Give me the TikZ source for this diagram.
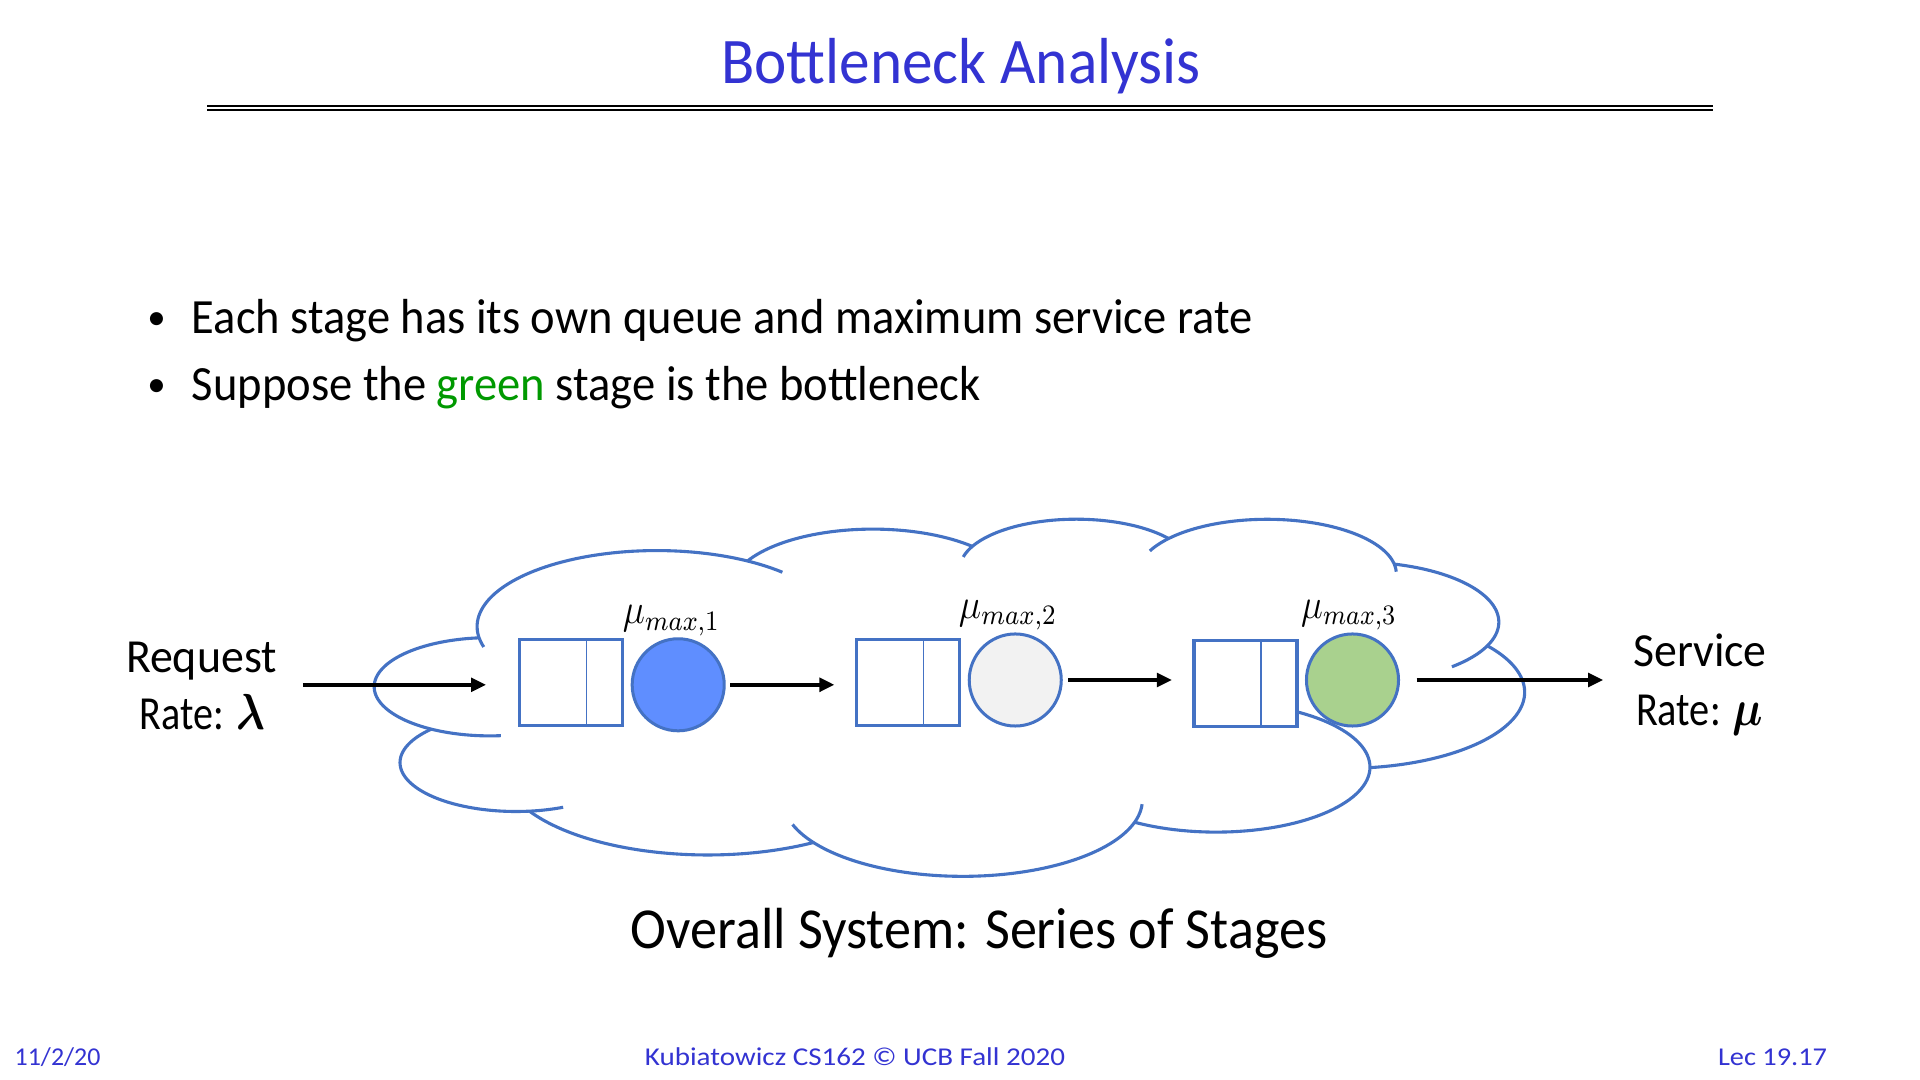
\documentclass[tikz,border=0pt]{standalone}
\usepackage{amsmath}
\usepackage{graphicx}
\usepackage{fontspec}
\setmainfont{Carlito}
\usetikzlibrary{arrows.meta,calc}
\definecolor{cloudblue}{HTML}{4472C4}
\definecolor{titleblue}{RGB}{51,51,210}
\definecolor{tgreen}{RGB}{0,153,0}
\definecolor{fillblue}{RGB}{95,142,255}
\definecolor{fillgray}{HTML}{F2F2F2}
\definecolor{fillgreen}{HTML}{A9D18E}
\newsavebox\fitbox
\newlength\fitlen
% scale a text horizontally to a target ink width given in px
\newcommand\fitw[2]{\sbox\fitbox{#2}\setlength\fitlen{\wd\fitbox}\pgfmathsetmacro\fitratio{#1*0.284528/\fitlen}\scalebox{\fitratio}[1]{\usebox\fitbox}}
\newcommand\cloudarc[6]{\draw[cloudln] plot[domain=#5:#6,samples=70,variable=\t] ({#1+#3*cos(\t)},{#2+#4*sin(\t)});}
\begin{document}
\begin{tikzpicture}[x=0.01cm,y=-0.01cm,
  txt/.style={inner sep=0pt, outer sep=0pt},
  titlefont/.style={font=\fontsize{18.5pt}{22pt}\selectfont, text=titleblue},
  bulletfont/.style={font=\fontsize{14pt}{17pt}\selectfont},
  dotfont/.style={font=\fontsize{10.5pt}{12pt}\selectfont},
  labelfont/.style={font=\fontsize{13.5pt}{16pt}\selectfont},
  capfont/.style={font=\fontsize{16.5pt}{20pt}\selectfont},
  footfont/.style={font=\fontsize{7.3pt}{9pt}\selectfont, text=titleblue},
  mufont/.style={font=\fontsize{12pt}{14pt}\selectfont},
  queue/.style={draw=cloudblue, line width=0.032cm, fill=white, minimum width=1.03cm, minimum height=0.86cm, inner sep=0pt, outer sep=0pt},
  server/.style={circle, draw=cloudblue, line width=0.03cm, minimum size=0.92cm, inner sep=0pt, outer sep=0pt},
  divline/.style={draw=cloudblue, line width=0.014cm},
  cloudln/.style={draw=cloudblue, line width=0.031cm},
  arr/.style={draw=black, line width=0.04cm, -{Triangle[length=0.15cm,width=0.135cm]}},
  rulethick/.style={draw=black, line width=0.025cm},
  rulethin/.style={draw=black, line width=0.015cm}]
\fill[white] (0,0) rectangle (1920,1080);
\useasboundingbox (0,0) rectangle (1920,1080);

% title and double rule
\node[txt, titlefont, anchor=base] (title) at (961,83.3) {\fitw{479}{Bottleneck Analysis}};
\draw[rulethick] (207,106) -- (1713,106);
\draw[rulethin] (207,110) -- (1713,110);

% bullets
\node[txt, dotfont, anchor=base] (d1) at (156.5,329.1) {•};
\node[txt, bulletfont, anchor=base west] (b1) at (191.8,333.3) {\fitw{1060}{Each stage has its own queue and maximum service rate}};
\node[txt, dotfont, anchor=base] (d2) at (156.5,396.8) {•};
\node[txt, bulletfont, anchor=base west] (b2) at (191.8,401) {\fitw{788}{Suppose the \textcolor{tgreen}{green} stage is the bottleneck}};

% cloud
\cloudarc{656.70}{626.52}{179.61}{75.95}{-195.63}{-45.59}
\cloudarc{872.79}{589.17}{141.84}{60.05}{-152.03}{-45.43}
\cloudarc{1076.23}{568.33}{116.10}{49.13}{-166.61}{-37.31}
\cloudarc{1267.12}{573.79}{129.18}{54.50}{-155.21}{-2.2}
\cloudarc{1356.99}{622.12}{141.84}{60.10}{-74.77}{48}
\cloudarc{1344.46}{692.22}{180.20}{76.19}{-37.53}{81.86}
\cloudarc{1216.11}{767.12}{153.87}{65.01}{-64.65}{121.98}
\cloudarc{962.75}{800.21}{179.58}{76.15}{3}{161.4}
\cloudarc{707.65}{767.86}{205.33}{87.13}{58.98}{150.20}
\cloudarc{515.97}{762.60}{115.96}{48.91}{66}{223.12}
\cloudarc{489.73}{686.77}{115.57}{49.13}{84.5}{264.11}

% stages
\node[queue] (q1) at (570.85,682.8) {};
\node[queue] (q2) at (908,682.5) {};
\node[queue] (q3) at (1245.5,683.15) {};
\foreach \q in {q1,q2,q3}
  \draw[divline] ($(\q.north west)!0.65!(\q.north east)$) -- ($(\q.south west)!0.65!(\q.south east)$);
\node[server, fill=fillblue] (c1) at (678.2,684.8) {};
\node[server, fill=fillgray] (c2) at (1015.25,680) {};
\node[server, fill=fillgreen] (c3) at (1352.5,680) {};

\node[txt, mufont, anchor=base] (m1) at (671.5,624) {\fitw{97}{$\mu_{max,1}$}};
\node[txt, mufont, anchor=base] (m2) at (1008,618.5) {\fitw{98}{$\mu_{max,2}$}};
\node[txt, mufont, anchor=base] (m3) at (1349,618.5) {\fitw{95.5}{$\mu_{max,3}$}};

% side labels
\node[txt, labelfont, anchor=base] (req) at (201.4,672.7) {\fitw{150.7}{Request}};
\node[txt, labelfont, anchor=base] (reqrate) at (202.5,729.3) {\fitw{125}{Rate: $\boldsymbol{\lambda}$}};
\node[txt, labelfont, anchor=base] (svc) at (1700,666.7) {\fitw{133.4}{Service}};
\node[txt, labelfont, anchor=base] (svcrate) at (1699.7,726) {\fitw{127.3}{Rate: $\boldsymbol{\mu}$}};

% arrows
\draw[arr, shorten <=0.26cm, shorten >=0.332cm] (req.east |- c1.center) -- (q1.west |- c1.center);
\draw[arr, shorten <=0.058cm, shorten >=0.22cm] (c1.east) -- (c1.east -| q2.west);
\draw[arr, shorten <=0.07cm, shorten >=0.22cm] (c2.east) -- (c2.east -| q3.west);
\draw[arr, shorten <=0.182cm, shorten >=0.30cm] (c3.east) -- (c3.east -| svc.west);

% caption
\node[txt, capfont, anchor=base] (cap) at (978.9,948.3) {\fitw{696}{Overall System: Series of Stages}};

% footer
\node[txt, footfont, anchor=base west] (date) at (14.7,1066) {\fitw{85.7}{11/2/20}};
\node[txt, footfont, anchor=base] (course) at (855,1066) {\fitw{420}{Kubiatowicz CS162 © UCB Fall 2020}};
\node[txt, footfont, anchor=base west] (lec) at (1718,1066) {\fitw{109}{Lec 19.17}};
\end{tikzpicture}
\end{document}
